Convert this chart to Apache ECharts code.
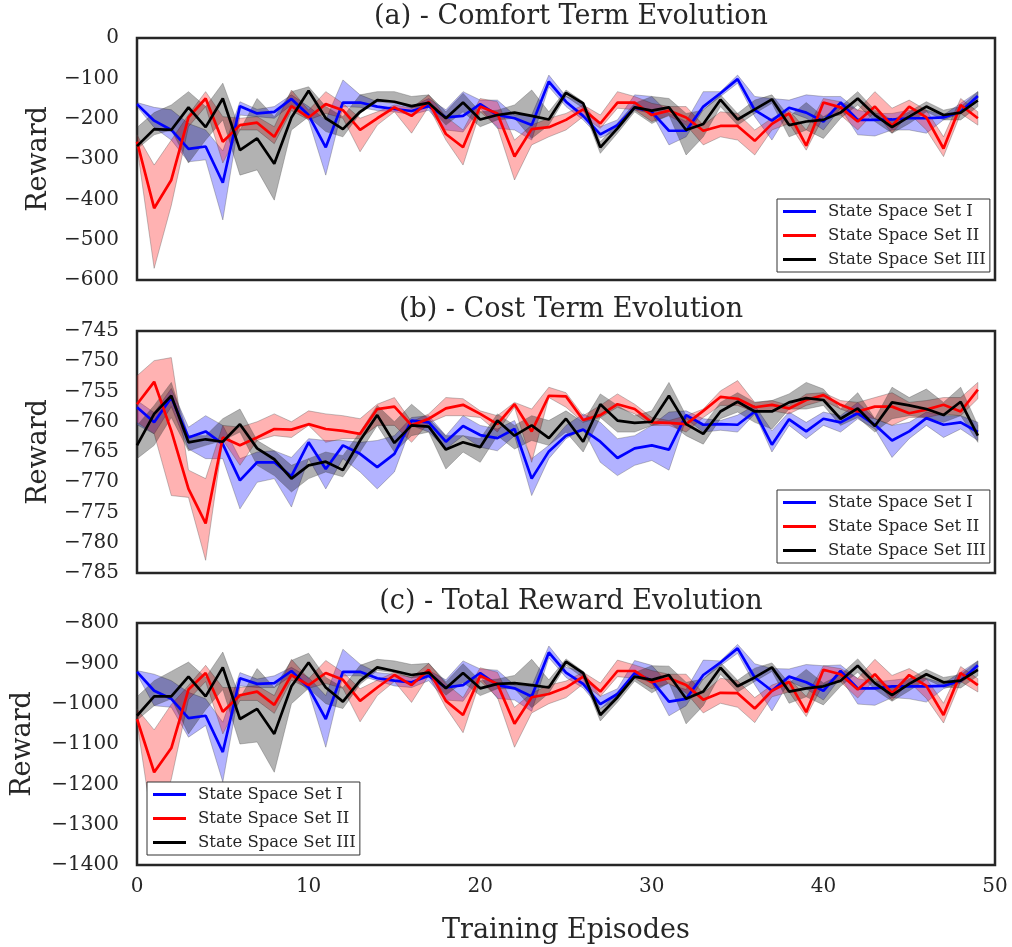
<!DOCTYPE html>
<html>
<head>
<meta charset="utf-8">
<script src="https://cdn.jsdelivr.net/npm/echarts@6/dist/echarts.min.js"></script>
<style>
html,body{margin:0;padding:0;background:#fff;}
#chart{width:1012px;height:947px;}
</style>
</head>
<body>
<div id="chart"></div>
<script>
const episodes = [0,1,2,3,4,5,6,7,8,9,10,11,12,13,14,15,16,17,18,19,20,21,22,23,24,25,26,27,28,29,30,31,32,33,34,35,36,37,38,39,40,41,42,43,44,45,46,47,48,49];
const seriesNames = ['State Space Set I','State Space Set II','State Space Set III'];
const panelTitles = ['(a) - Comfort Term Evolution','(b) - Cost Term Evolution','(c) - Total Reward Evolution'];
const xTicks = [0,10,20,30,40,50];

// (a) Comfort term
const comfortBlue   = [-164,-205,-228,-275,-269,-359,-169,-187,-183,-151,-191,-271,-160,-160,-170,-176,-181,-169,-197,-193,-164,-191,-199,-216,-108,-158,-193,-239,-216,-172,-183,-230,-230,-170,-137,-102,-179,-205,-173,-185,-207,-160,-203,-203,-202,-199,-199,-197,-183,-144];
const comfortBlueHi = [-160,-172,-178,-212,-228,-280,-158,-177,-170,-141,-170,-203,-104,-141,-158,-162,-170,-150,-178,-133,-154,-154,-191,-191,-92,-145,-162,-220,-203,-141,-145,-187,-207,-133,-133,-92,-145,-150,-154,-141,-145,-145,-179,-187,-187,-179,-179,-191,-162,-133];
const comfortBlueLo = [-170,-222,-253,-307,-302,-451,-191,-195,-199,-166,-203,-340,-170,-172,-180,-183,-190,-179,-228,-233,-174,-224,-228,-253,-121,-170,-203,-248,-228,-178,-187,-265,-245,-178,-145,-112,-195,-253,-183,-199,-228,-174,-240,-243,-228,-228,-236,-203,-187,-154];
const comfortRed    = [-257,-422,-352,-197,-150,-257,-216,-210,-245,-169,-197,-164,-179,-228,-199,-172,-193,-158,-238,-271,-170,-187,-294,-226,-221,-203,-177,-212,-160,-160,-191,-180,-197,-230,-218,-218,-255,-213,-187,-267,-160,-172,-207,-170,-218,-170,-197,-274,-166,-199];
const comfortRedHi  = [-240,-315,-253,-190,-133,-195,-199,-195,-220,-129,-179,-133,-162,-199,-183,-166,-174,-141,-195,-228,-150,-158,-253,-216,-199,-187,-166,-191,-133,-145,-162,-170,-170,-216,-183,-187,-228,-199,-179,-228,-150,-158,-179,-133,-174,-154,-179,-245,-150,-183];
const comfortRedLo  = [-270,-571,-415,-220,-170,-310,-228,-228,-262,-180,-203,-187,-199,-282,-216,-183,-236,-170,-253,-315,-183,-220,-352,-265,-245,-228,-195,-224,-174,-178,-207,-193,-216,-265,-245,-253,-290,-228,-212,-278,-195,-191,-228,-183,-236,-187,-228,-294,-187,-216];
const comfortBlack   = [-268,-226,-228,-172,-221,-150,-278,-249,-312,-197,-131,-199,-226,-183,-154,-158,-169,-161,-199,-160,-202,-191,-185,-193,-202,-136,-162,-271,-224,-172,-180,-172,-228,-213,-153,-202,-177,-152,-216,-207,-203,-185,-150,-191,-221,-195,-170,-191,-185,-155];
const comfortBlackHi = [-222,-185,-166,-133,-170,-112,-228,-150,-195,-133,-121,-170,-195,-141,-133,-133,-145,-141,-183,-137,-183,-179,-166,-129,-183,-129,-158,-257,-211,-162,-145,-150,-187,-179,-141,-187,-154,-141,-195,-160,-195,-170,-133,-179,-203,-183,-158,-179,-170,-133];
const comfortBlackLo = [-275,-240,-228,-310,-253,-203,-340,-327,-402,-228,-195,-232,-245,-187,-158,-158,-174,-170,-216,-183,-220,-203,-199,-249,-216,-145,-174,-286,-236,-183,-212,-191,-290,-245,-170,-216,-187,-162,-245,-228,-249,-199,-166,-207,-236,-212,-183,-203,-203,-170];

// (b) Cost term
const costBlue   = [-757.6,-760.1,-756.0,-762.6,-761.6,-763.7,-769.7,-766.7,-766.7,-769.0,-763.4,-767.8,-763.9,-765.3,-767.5,-765.3,-759.8,-760.1,-763.3,-760.7,-762.2,-762.7,-761.2,-769.4,-764.9,-762.3,-761.3,-763.3,-766.0,-764.4,-763.9,-764.6,-758.9,-760.5,-760.4,-760.5,-758.3,-763.8,-759.6,-761.6,-759.5,-760.1,-758.6,-760.5,-763.1,-761.6,-759.4,-760.5,-760.1,-761.7];
const costBlueHi = [-756.5,-758.5,-754.5,-760.9,-759.0,-760.6,-766.1,-765.0,-764.8,-765.9,-762.8,-763.1,-763.1,-763.4,-763.1,-762.3,-759.3,-759.0,-762.3,-759.0,-760.6,-761.2,-759.8,-766.1,-763.9,-760.6,-758.7,-760.1,-762.8,-762.3,-760.6,-758.4,-758.2,-759.5,-759.8,-758.9,-757.3,-761.5,-758.4,-760.1,-758.4,-759.0,-756.8,-759.5,-760.6,-760.1,-758.4,-759.0,-759.0,-760.1];
const costBlueLo = [-760.5,-762.0,-757.5,-764.5,-766.1,-766.1,-774.4,-770.0,-769.4,-774.1,-766.1,-771.1,-766.1,-768.3,-771.1,-768.3,-760.6,-761.7,-764.5,-762.3,-764.2,-764.8,-762.3,-772.2,-766.1,-762.8,-761.2,-766.7,-768.9,-767.2,-766.4,-768.0,-759.5,-761.7,-761.4,-761.7,-758.7,-765.0,-760.6,-762.8,-760.6,-761.7,-759.5,-761.2,-765.9,-762.8,-760.6,-762.6,-761.2,-763.1];
const costRed    = [-757.1,-753.4,-761.5,-771.1,-776.8,-762.6,-763.9,-762.6,-761.2,-761.3,-760.4,-761.2,-761.5,-762.0,-757.9,-757.5,-760.6,-759.5,-757.8,-757.2,-758.7,-760.4,-757.1,-761.6,-755.7,-755.8,-759.7,-758.9,-757.1,-757.9,-760.1,-760.2,-760.4,-758.2,-755.9,-756.2,-757.6,-757.2,-757.8,-756.4,-755.6,-757.2,-758.3,-757.5,-757.5,-758.6,-758.0,-757.2,-758.3,-754.7];
const costRedHi  = [-752.4,-749.9,-749.4,-768.0,-769.4,-760.6,-760.9,-760.0,-758.7,-760.0,-758.2,-758.7,-759.0,-759.5,-757.1,-756.0,-760.0,-758.7,-756.0,-756.2,-758.2,-759.0,-756.8,-757.9,-754.3,-755.2,-759.0,-757.3,-755.4,-757.1,-759.3,-759.8,-759.0,-757.9,-754.9,-753.2,-756.8,-756.5,-757.3,-755.4,-755.2,-756.5,-756.8,-756.0,-755.2,-756.8,-756.5,-756.0,-756.0,-753.5];
const costRedLo  = [-760.1,-762.0,-772.2,-772.5,-782.9,-763.0,-767.2,-763.1,-762.3,-762.6,-760.6,-763.4,-762.8,-762.8,-760.6,-760.6,-763.4,-760.2,-759.0,-759.0,-759.3,-761.7,-757.6,-766.7,-756.0,-757.6,-760.1,-759.3,-757.6,-758.7,-760.6,-760.6,-761.7,-759.3,-757.3,-757.3,-758.4,-758.2,-758.7,-757.3,-756.5,-757.9,-759.0,-759.5,-760.6,-759.3,-759.3,-758.7,-759.0,-756.2];
const costBlack   = [-763.9,-758.7,-755.7,-763.4,-762.9,-763.3,-760.4,-764.4,-766.2,-769.4,-767.2,-766.6,-768.0,-763.1,-758.9,-763.5,-760.6,-760.8,-764.6,-763.4,-764.2,-759.8,-762.3,-760.6,-762.7,-759.5,-763.3,-757.1,-759.8,-760.2,-760.0,-755.7,-760.4,-762.0,-758.3,-756.7,-758.3,-758.3,-756.8,-756.1,-756.4,-759.5,-757.8,-760.7,-756.8,-757.3,-757.9,-758.9,-756.7,-762.3];
const costBlackHi = [-760.6,-757.3,-753.5,-762.3,-762.3,-759.5,-757.9,-763.1,-764.8,-767.2,-766.1,-765.0,-765.6,-761.7,-757.3,-760.0,-757.1,-759.5,-762.3,-762.3,-762.8,-758.7,-760.6,-759.0,-759.8,-758.2,-760.1,-755.4,-757.3,-759.0,-758.2,-753.5,-759.0,-760.6,-756.8,-755.2,-756.8,-756.5,-755.4,-753.5,-754.6,-757.9,-755.2,-759.5,-754.3,-756.0,-754.6,-756.8,-754.3,-760.6];
const costBlackLo = [-766.1,-763.9,-759.3,-764.8,-763.9,-763.1,-761.7,-767.2,-768.9,-771.6,-769.4,-768.3,-769.1,-765.0,-760.6,-765.0,-762.3,-761.7,-767.8,-765.0,-766.7,-762.3,-764.5,-763.1,-763.9,-761.7,-765.0,-759.3,-761.7,-761.7,-760.6,-760.1,-762.3,-763.7,-759.5,-758.4,-760.1,-761.2,-757.9,-757.9,-757.3,-760.6,-759.3,-761.7,-759.5,-759.0,-759.3,-760.1,-759.0,-763.4];

// (c) Total reward
const totalBlue   = [-921,-968,-988,-1036,-1030,-1120,-937,-951,-949,-919,-960,-1038,-921,-921,-937,-943,-947,-931,-960,-954,-924,-954,-962,-982,-873,-923,-951,-1001,-976,-924,-943,-995,-988,-929,-898,-863,-935,-968,-933,-947,-968,-919,-962,-962,-957,-957,-957,-956,-943,-905];
const totalBlueHi = [-918,-927,-943,-972,-988,-1046,-923,-939,-931,-910,-935,-980,-865,-902,-923,-927,-935,-918,-941,-894,-914,-917,-954,-957,-857,-910,-920,-982,-963,-893,-905,-952,-965,-892,-894,-853,-901,-913,-914,-903,-906,-904,-938,-946,-942,-937,-937,-950,-922,-894];
const totalBlueLo = [-927,-1005,-1009,-1083,-1054,-1194,-956,-960,-960,-931,-968,-1108,-931,-931,-943,-956,-960,-943,-991,-994,-934,-987,-991,-1019,-886,-935,-961,-1012,-988,-932,-949,-1030,-1005,-939,-906,-875,-953,-1018,-945,-963,-991,-935,-1001,-1004,-985,-988,-996,-963,-949,-917];
const totalRed    = [-1038,-1170,-1110,-965,-924,-1020,-979,-970,-1003,-929,-954,-924,-941,-993,-960,-929,-954,-916,-993,-1028,-931,-951,-1050,-984,-976,-960,-933,-970,-919,-919,-947,-937,-954,-990,-973,-974,-1012,-968,-946,-1021,-916,-927,-965,-927,-974,-929,-956,-1028,-924,-954];
const totalRedHi  = [-1013,-1065,-1002,-955,-905,-960,-960,-955,-980,-890,-938,-893,-922,-963,-942,-922,-936,-900,-950,-985,-911,-922,-1009,-974,-954,-944,-922,-949,-892,-904,-918,-927,-927,-974,-937,-943,-985,-954,-938,-982,-906,-913,-937,-890,-930,-913,-938,-999,-908,-938];
const totalRedLo  = [-1046,-1330,-1187,-990,-945,-1075,-992,-992,-1024,-942,-962,-950,-962,-1045,-980,-945,-997,-930,-1010,-1072,-944,-984,-1108,-1023,-1000,-985,-951,-982,-933,-937,-963,-950,-973,-1023,-999,-1009,-1047,-983,-971,-1032,-951,-946,-986,-940,-992,-946,-987,-1048,-945,-971];
const totalBlack   = [-1030,-982,-982,-933,-982,-910,-1038,-1013,-1075,-957,-898,-960,-995,-943,-910,-919,-929,-923,-962,-924,-962,-951,-949,-954,-960,-896,-924,-1028,-984,-933,-941,-929,-988,-970,-911,-957,-935,-910,-970,-962,-957,-943,-906,-949,-979,-951,-927,-947,-943,-916];
const totalBlackHi = [-983,-943,-920,-897,-935,-872,-986,-913,-960,-893,-875,-935,-960,-905,-890,-894,-903,-900,-946,-901,-943,-939,-930,-890,-941,-889,-920,-1014,-971,-923,-906,-907,-947,-939,-898,-942,-912,-899,-949,-915,-949,-928,-889,-937,-961,-939,-915,-935,-928,-894];
const totalBlackLo = [-1041,-1005,-988,-1075,-1015,-965,-1100,-1095,-1170,-1000,-962,-1000,-1012,-952,-918,-923,-936,-932,-979,-947,-980,-963,-963,-1010,-974,-905,-936,-1043,-996,-944,-973,-948,-1050,-1005,-927,-971,-945,-920,-999,-983,-1003,-957,-922,-965,-994,-968,-940,-959,-961,-931];

const panels = [
  {mean:[comfortBlue,comfortRed,comfortBlack], hi:[comfortBlueHi,comfortRedHi,comfortBlackHi], lo:[comfortBlueLo,comfortRedLo,comfortBlackLo], min:-600, max:0, interval:100},
  {mean:[costBlue,costRed,costBlack], hi:[costBlueHi,costRedHi,costBlackHi], lo:[costBlueLo,costRedLo,costBlackLo], min:-785, max:-745, interval:5},
  {mean:[totalBlue,totalRed,totalBlack], hi:[totalBlueHi,totalRedHi,totalBlackHi], lo:[totalBlueLo,totalRedLo,totalBlackLo], min:-1400, max:-800, interval:100}
];

const lineColors = ['#0000ff','#ff0000','#000000'];
const bandColors = ['rgba(0,0,255,0.3)','rgba(255,0,0,0.3)','rgba(0,0,0,0.3)'];
const FONT = 'DejaVu Serif';
const TXT = '#262626';
const gridTops = [38, 331, 623];
const GRID_H = 242;
const legendPos = [{left:777, top:199},{left:777, top:490},{left:147, top:782}];

function bandRender(lo, hi, fill) {
  return function (params, api) {
    if (params.dataIndex !== 0) return null;
    const pts = [];
    for (let i = 0; i < lo.length; i++) pts.push(api.coord([episodes[i], lo[i]]));
    for (let i = hi.length - 1; i >= 0; i--) pts.push(api.coord([episodes[i], hi[i]]));
    return {
      type: 'polygon',
      shape: { points: pts },
      style: { fill: fill, stroke: 'rgba(80,80,80,0.35)', lineWidth: 1 }
    };
  };
}

const fmtMinus = v => String(v).replace('-', '\u2212');

const grids = [], xAxes = [], yAxes = [], series = [], titles = [], legends = [];
panels.forEach((p, k) => {
  grids.push({left:137, right:17, top:gridTops[k], height:GRID_H, show:true, borderColor:TXT, borderWidth:2.5, backgroundColor:'transparent', containLabel:false});
  const last = k === 2;
  xAxes.push({
    type:'value', gridIndex:k, min:0, max:50, interval:10,
    axisLine:{show:false}, axisTick:{show:false}, splitLine:{show:false},
    axisLabel:{show:last, fontFamily:FONT, fontSize:20, color:TXT, margin:12},
    name: last ? 'Training Episodes' : '', nameLocation:'middle', nameGap:52,
    nameTextStyle:{fontFamily:FONT, fontSize:27, color:TXT}
  });
  yAxes.push({
    type:'value', gridIndex:k, min:p.min, max:p.max, interval:p.interval,
    axisLine:{show:false}, axisTick:{show:false}, splitLine:{show:false},
    axisLabel:{fontFamily:FONT, fontSize:20, color:TXT, margin:18, formatter:fmtMinus},
    name:'Reward', nameLocation:'middle', nameGap: last ? 101 : 85, nameRotate:90,
    nameTextStyle:{fontFamily:FONT, fontSize:27, color:TXT}
  });
  titles.push({text:panelTitles[k], left:566, textAlign:'center', top:gridTops[k]-40,
    textStyle:{fontFamily:FONT, fontSize:27, fontWeight:'normal', color:TXT}});
  legends.push({
    data:seriesNames, orient:'vertical', left:legendPos[k].left, top:legendPos[k].top,
    icon:'rect', itemWidth:33, itemHeight:3, itemGap:7,
    backgroundColor:'#fff', borderColor:'#333', borderWidth:1, borderRadius:0,
    padding:[4,4,4,6], selectedMode:false,
    textStyle:{fontFamily:FONT, fontSize:16.5, color:TXT, padding:[0,0,0,7]}
  });
  for (let s = 0; s < 3; s++) {
    series.push({
      type:'custom', name:'band'+k+'_'+s, xAxisIndex:k, yAxisIndex:k, z:1,
      renderItem: bandRender(p.lo[s], p.hi[s], bandColors[s]),
      data: episodes.map((x, i) => [x, p.lo[s][i], p.hi[s][i]]),
      encode:{x:0, y:[1,2]}, silent:true
    });
  }
  for (let s = 0; s < 3; s++) {
    series.push({
      type:'line', name:seriesNames[s], xAxisIndex:k, yAxisIndex:k, z:3,
      data: episodes.map((x, i) => [x, p.mean[s][i]]),
      symbol:'none', showSymbol:false, color:lineColors[s],
      lineStyle:{color:lineColors[s], width:2.7}, silent:true, animation:false
    });
  }
});

const chart = echarts.init(document.getElementById('chart'), null, {renderer:'canvas'});
chart.setOption({
  animation:false,
  backgroundColor:'#fff',
  title:titles, legend:legends, grid:grids, xAxis:xAxes, yAxis:yAxes, series:series
});
</script>
</body>
</html>
